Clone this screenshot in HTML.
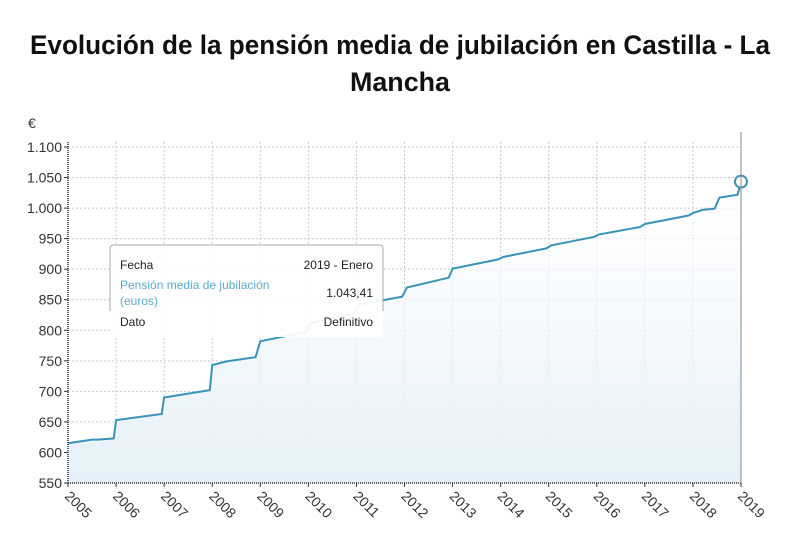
<!DOCTYPE html>
<html><head><meta charset="utf-8">
<style>
html,body{margin:0;padding:0;background:#fff;}
svg{display:block;font-family:"Liberation Sans",sans-serif;}
</style></head>
<body>
<svg id="chart" width="800" height="539" viewBox="0 0 800 539">
  <defs>
    <linearGradient id="fillg" x1="0" y1="0" x2="0" y2="1">
      <stop offset="0" stop-color="#ffffff" stop-opacity="0.6"/>
      <stop offset="1" stop-color="#e4f0f8"/>
    </linearGradient>
  </defs>
  <text x="400" y="54" text-anchor="middle" font-size="27" font-weight="bold" fill="#111" textLength="740" lengthAdjust="spacingAndGlyphs">Evolución de la pensión media de jubilación en Castilla - La</text>
  <text x="400" y="91" text-anchor="middle" font-size="27" font-weight="bold" fill="#111" textLength="100" lengthAdjust="spacingAndGlyphs">Mancha</text>
  <text x="28" y="128" font-size="14" fill="#333">€</text>
  <g id="grid"></g>
  <g id="series"></g>
  <g id="axes"></g>
  <g>
    <rect x="110" y="245" width="273" height="92" fill="#fff" fill-opacity="0.92"/>
    <path d="M110 311 V249 Q110 245 114 245 H379 Q383 245 383 249 V311" fill="none" stroke="#aaa" stroke-width="1"/>
    <text x="120" y="269" font-size="12" fill="#222">Fecha</text>
    <text x="373" y="269" font-size="12" fill="#222" text-anchor="end">2019 - Enero</text>
    <text x="120" y="289" font-size="12" fill="#5aaccc">Pensión media de jubilación</text>
    <text x="120" y="305" font-size="12" fill="#5aaccc">(euros)</text>
    <text x="373" y="297" font-size="12" fill="#222" text-anchor="end">1.043,41</text>
    <text x="120" y="326" font-size="12" fill="#222">Dato</text>
    <text x="373" y="326" font-size="12" fill="#222" text-anchor="end">Definitivo</text>
  </g>
</svg>
<script>
const years = [2005,2006,2007,2008,2009,2010,2011,2012,2013,2014,2015,2016,2017,2018,2019];
const yTicks = [550,600,650,700,750,800,850,900,950,1000,1050,1100];
const yTickLabels = ["550","600","650","700","750","800","850","900","950","1.000","1.050","1.100"];
const dates = [2005.0,2005.5,2005.62,2005.95,2006.0,2006.95,2007.0,2007.95,2008.0,2008.3,2008.9,2009.0,2009.5,2009.95,2010.05,2010.95,2011.05,2011.95,2012.05,2012.92,2013.0,2013.95,2014.05,2014.95,2015.05,2015.95,2016.05,2016.9,2017.0,2017.92,2018.0,2018.2,2018.45,2018.55,2018.93,2019.0];
const values = [615,621,621,623,653,663,690,702,743,749,756,782,790,797,812,827,842,855,870,886,901,916,920,934,939,953,957,969,974,988,992,997,999,1017,1022,1043.41];

const NS="http://www.w3.org/2000/svg";
const X0=68,X1=741,Y0=483,Y1=147;
const xs=d=>X0+(d-2005)/(2019-2005)*(X1-X0);
const ys=v=>Y0-(v-550)/(1100-550)*(Y0-Y1);
function mk(tag,attrs,parent){const e=document.createElementNS(NS,tag);for(const k in attrs)e.setAttribute(k,attrs[k]);parent.appendChild(e);return e;}
const grid=document.getElementById('grid'),series=document.getElementById('series'),axes=document.getElementById('axes');

yTicks.forEach((t,i)=>{
  const l=mk('line',{x1:X0,x2:X1,y1:ys(t),y2:ys(t),stroke:'#c8c8c8','stroke-dasharray':'2,2','stroke-width':1},grid);
  
  
  const tk=mk('line',{x1:X0-4,x2:X0,y1:ys(t),y2:ys(t),stroke:'#333'},axes);
  
  
  const tx=mk('text',{x:X0-6,y:ys(t)+5,'text-anchor':'end','font-size':14,fill:'#333'},axes);
  tx.textContent=yTickLabels[i];
  
  
});
years.forEach(y=>{
  const l=mk('line',{x1:xs(y),x2:xs(y),y1:Y1-5,y2:Y0,stroke:'#c8c8c8','stroke-dasharray':'2,2','stroke-width':1},grid);
  
  
  const tk=mk('line',{x1:xs(y),x2:xs(y),y1:Y0,y2:Y0+4,stroke:'#333'},axes);
  
  
  const tx=mk('text',{x:0,y:0,'font-size':14,fill:'#333',transform:`translate(${xs(y)-4},${Y0+14}) rotate(45)`},axes);
  tx.textContent=String(y);
  
  
});
const yax=mk('line',{x1:X0,x2:X0,y1:Y1-5,y2:Y0,stroke:'#333','stroke-width':1.5,'stroke-dasharray':'1,1'},axes);


const xax=mk('line',{x1:X0,x2:X1,y1:Y0,y2:Y0,stroke:'#333','stroke-width':1.5,'stroke-dasharray':'1,1'},axes);


const rax=mk('line',{x1:X1,x2:X1,y1:Y1-15,y2:Y0,stroke:'#888','stroke-width':1},axes);



let pts=dates.map((d,i)=>xs(d).toFixed(1)+','+ys(values[i]).toFixed(1));
const area=mk('path',{d:'M'+xs(dates[0])+','+Y0+' L'+pts.join(' L')+' L'+xs(dates[dates.length-1])+','+Y0+' Z',fill:'url(#fillg)'},series);


const line=mk('path',{d:'M'+pts.join(' L'),fill:'none',stroke:'#3a93b8','stroke-width':2},series);


const last=dates.length-1;
const c=mk('circle',{cx:xs(dates[last]),cy:ys(values[last]),r:6,fill:'#fff',stroke:'#3a93b8','stroke-width':2},series);


</script>
</body></html>
